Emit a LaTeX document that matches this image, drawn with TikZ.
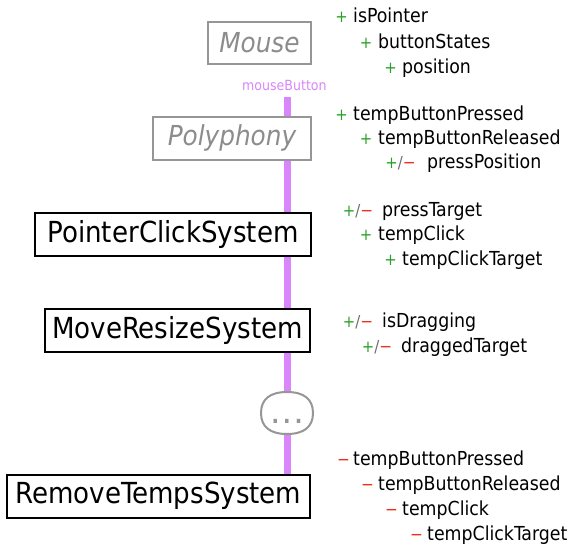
\documentclass[tikz,border=0pt]{standalone}
\usepackage{fontspec}
\setmainfont{DejaVu Sans Condensed}
\usetikzlibrary{shapes.geometric}
\definecolor{plusgreen}{RGB}{40,160,40}
\definecolor{minusred}{RGB}{235,50,30}
\definecolor{slashgray}{RGB}{110,110,110}
\definecolor{lineviolet}{RGB}{216,134,250}
\definecolor{boxgray}{RGB}{150,150,150}
\definecolor{textgray}{RGB}{140,140,140}
\tikzset{
  sysbox/.style={draw=black, line width=2pt, fill=white, inner sep=0pt,
    font=\fontsize{29}{31}\selectfont, text=black},
  extbox/.style={draw=boxgray, line width=2pt, fill=white, inner sep=0pt,
    font=\fontsize{27.5}{29}\selectfont\itshape, text=textgray},
  dotsshape/.style={draw=boxgray, line width=2pt, fill=white},
  dotsbox/.style={inner sep=0pt, minimum width=52pt, minimum height=42pt, text=boxgray,
    font=\fontsize{22}{24}\selectfont\bfseries, text height=20pt, text depth=0pt},
  flowline/.style={draw=lineviolet, line width=7pt},
  sig/.style={anchor=base, inner sep=0pt, font=\fontsize{16.5}{18}\selectfont},
  item/.style={anchor=base west, inner sep=0pt, font=\fontsize{19.3}{21}\selectfont, text=black},
  lbl/.style={inner sep=0pt, font=\fontsize{14}{16}\selectfont, text=lineviolet}
}
\newcommand{\sP}{\textcolor{plusgreen}{+}}
\newcommand{\sM}{\textcolor{minusred}{\fontsize{17}{19}\selectfont −}}
\newcommand{\sPM}{\textcolor{plusgreen}{+}\textcolor{slashgray}{/}\textcolor{minusred}{\fontsize{17}{19}\selectfont −}}
\newcommand{\entry}[6]{%
  \node[sig] (#1s) at (#2,-#4) {#5};
  \node[item] (#1t) at (#3,-#4) {#6};}
\begin{document}
\begin{tikzpicture}[x=1pt,y=1pt]
\useasboundingbox (0,0) rectangle (576,-546);
% label and line
\node[lbl, anchor=base west] (mb) at (242,-90) {mouseButton};
\coordinate (ltop) at (287,-97);
% boxes
\node[minimum width=303pt, minimum height=44pt] (rts0) at (158.5,-496) {};
\draw[flowline] (ltop) -- (ltop |- rts0.north);
\node[extbox, minimum width=103pt, minimum height=42pt] (mouse) at (259.5,-43) {Mouse};
\node[extbox, minimum width=158pt, minimum height=43pt] (poly) at (232,-138) {Polyphony};
\node[sysbox, minimum width=276pt, minimum height=43pt] (pcs) at (173,-234.5) {PointerClickSystem};
\node[sysbox, minimum width=265pt, minimum height=43pt] (mrs) at (177.5,-330) {MoveResizeSystem};
% the "..." placeholder (rounded superellipse)
\coordinate (dotsc) at (287,-413);
\draw[dotsshape] (dotsc) ++(26,0) .. controls +(0,13.8) and +(17,0) .. ++(-26,21)
  .. controls +(-17,0) and +(0,13.8) .. ++(-26,-21)
  .. controls +(0,-13.8) and +(-17,0) .. ++(26,-21)
  .. controls +(17,0) and +(0,-13.8) .. ++(26,21) -- cycle;
\node[dotsbox] (dots) at (dotsc) {.\hspace{4pt}.\hspace{4pt}.};
\node[sysbox, minimum width=303pt, minimum height=43pt] (rts) at (158.5,-496) {RemoveTempsSystem};
% Mouse entries
\entry{a1}{341.5}{353}{23}{\sP}{isPointer}
\entry{a2}{366}{378}{48}{\sP}{buttonStates}
\entry{a3}{390.5}{402}{73}{\sP}{position}
% Polyphony entries
\entry{b1}{341.5}{353}{120}{\sP}{tempButtonPressed}
\entry{b2}{366}{378}{144}{\sP}{tempButtonReleased}
\entry{b3}{400.5}{427}{168}{\sPM}{pressPosition}
% PointerClick entries
\entry{c1}{358}{382}{216}{\sPM}{pressTarget}
\entry{c2}{366}{378}{240}{\sP}{tempClick}
\entry{c3}{390.5}{402}{265}{\sP}{tempClickTarget}
% MoveResize entries
\entry{d1}{358}{382}{327}{\sPM}{isDragging}
\entry{d2}{377}{401}{352}{\sPM}{draggedTarget}
% RemoveTemps entries
\entry{e1}{343.5}{353}{465}{\sM}{tempButtonPressed}
\entry{e2}{367.5}{378}{490}{\sM}{tempButtonReleased}
\entry{e3}{391.5}{402}{515}{\sM}{tempClick}
\entry{e4}{416.5}{427}{540}{\sM}{tempClickTarget}
\end{tikzpicture}
\end{document}
